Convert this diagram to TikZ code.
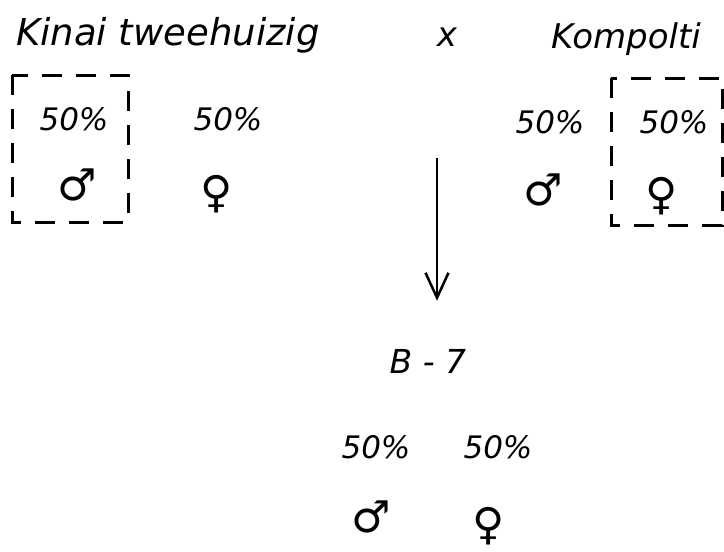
\documentclass[tikz,border=0pt]{standalone}
\usepackage{fontspec}
\setmainfont{DejaVu Sans}
\usetikzlibrary{arrows.meta,positioning}

\begin{document}
\begin{tikzpicture}[x=1pt,y=-1pt,
  hand/.style={font=\fontsize{34}{34}\selectfont\itshape, inner sep=0pt, anchor=base west},
  pct/.style={font=\fontsize{31}{31}\selectfont\itshape, inner sep=0pt, anchor=base},
  sex/.style={font=\fontsize{44}{44}\selectfont, inner sep=0pt},
  dashbox/.style={draw, line width=3pt, dash pattern=on 20pt off 14pt},
  >={Straight Barb[length=25pt,width=23pt]}]
\useasboundingbox (0,0) rectangle (724,552);
% parents
\node[hand, font=\fontsize{37}{37}\selectfont\itshape] (kinai) at (16,45) {Kinai tweehuizig};
\node[hand, anchor=base] (cross) at (447,46) {x};
\node[hand] (kompolti) at (551,48) {Kompolti};
\foreach \n/\x/\y in {kp1/74/130, kp2/228/130, ko1/550/133, ko2/674/133, bp1/376/458, bp2/498/458}
  \node[pct] (\n) at (\x,\y) {50\%};
\node[sex] (km) at (77,185) {♂};
\node[sex] (kf) at (217,194) {♀};
\node[sex] (om) at (543,190) {♂};
\node[sex] (of) at (662,196) {♀};
% selected halves
\draw[dashbox] (12,75) rectangle (128,222);
\draw[dashbox] (611,78) rectangle (722,225);
% offspring
\node[font=\fontsize{33}{33}\selectfont\itshape, inner sep=0pt, anchor=base] (b7) at (428,373) {B - 7};
\node[sex] (bm) at (371,517) {♂};
\node[sex] (bf) at (489,526) {♀};
\coordinate (arrtop) at (437,158);
\draw[->, line width=2.5pt, shorten >=48pt] (arrtop) -- (arrtop |- b7.north);
\end{tikzpicture}
\end{document}
